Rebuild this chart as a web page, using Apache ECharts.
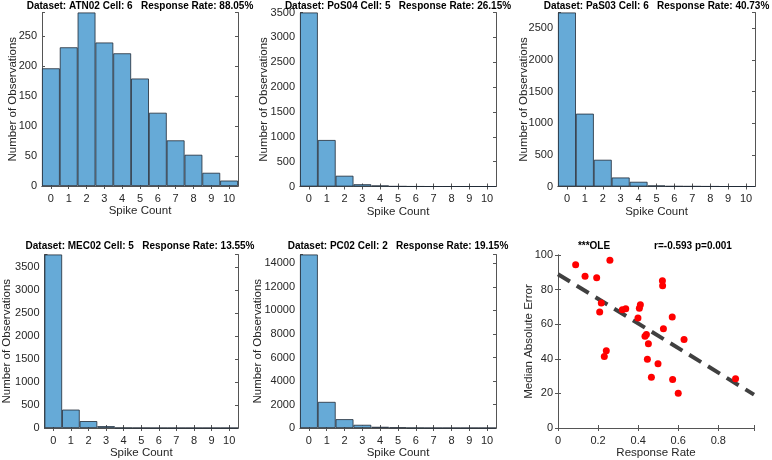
<!DOCTYPE html>
<html><head><meta charset="utf-8">
<script src="https://cdn.jsdelivr.net/npm/echarts@6/dist/echarts.min.js"></script>
<style>html,body{margin:0;padding:0;background:#fff}#c{width:772px;height:460px}</style>
</head><body><div id="c"></div>
<script>
// ---- data ----
const spikeCounts = ['0','1','2','3','4','5','6','7','8','9','10'];
const atn02 = [196, 231, 289, 239, 221, 179, 122, 76, 52, 22, 9];
const pos04 = [3500, 935, 216, 45, 20, 4, 1, 0, 0, 0, 0];
const pas03 = [2748, 1150, 422, 142, 74, 16, 5, 3, 1, 0, 0];
const mec02 = [3780, 400, 150, 40, 3, 1, 0, 0, 0, 0, 0];
const pc02  = [14760, 2220, 750, 270, 100, 45, 6, 0, 0, 0, 0];
const histTitles = [
  'Dataset: ATN02 Cell: 6   Response Rate: 88.05%',
  'Dataset: PoS04 Cell: 5   Response Rate: 26.15%',
  'Dataset: PaS03 Cell: 6   Response Rate: 40.73%',
  'Dataset: MEC02 Cell: 5   Response Rate: 13.55%',
  'Dataset: PC02 Cell: 2   Response Rate: 19.15%'
];
const yIntervals = [50, 500, 500, 500, 2000];
const responseRate = [0.088,0.135,0.193,0.259,0.216,0.208,0.241,0.231,0.321,0.338,0.411,0.406,0.399,0.441,0.434,0.451,0.446,0.466,0.499,0.521,0.522,0.526,0.570,0.572,0.600,0.629,0.886];
const medianError  = [94.4,87.7,86.8,96.9,72.2,67.0,44.6,41.4,68.4,69.0,71.3,69.2,63.6,54.0,53.1,48.7,39.7,29.3,37.2,85.1,82.2,57.3,64.2,28.0,20.1,51.1,28.4];
const fitRate  = [0, 0.978];
const fitError = [88.9, 19.3];
const scatterTitleLeft = '***OLE';
const scatterTitleRight = 'r=-0.593 p=0.001';

// ---- layout ----
const FONT = 'Liberation Sans, Arial, Helvetica, sans-serif';
const TXT = '#262626';
const AX = '#555555';
const grids = [
  {left:42,  top:12.5, width:196, height:173.5},
  {left:300, top:12.5, width:196, height:174},
  {left:558, top:12.5, width:197, height:174},
  {left:42,  top:254.5, width:196, height:174.5},
  {left:300, top:254.5, width:196, height:174},
  {left:558, top:255, width:196, height:174}
];
const yNameGaps = [23.5, 30.5, 28.5, 31.5, 36.5, 23.5];
const hists = [atn02, pos04, pas03, mec02, pc02];

const xAxes = [], yAxes = [], series = [], titles = [];
const lineStyle = {show:true, lineStyle:{color:AX, width:1}};
const tickIn = {show:true, inside:true, length:3, lineStyle:{color:AX, width:1}};
const titleStyle = {fontFamily:FONT, fontSize:10, fontWeight:'bold', color:'#000'};

function multFmt(step){
  return function(v){
    const r = v/step;
    if (Math.abs(r - Math.round(r)) < 1e-6) return String(+(+v).toFixed(3));
    return '';
  };
}

hists.forEach((vals, i) => {
  const g = grids[i];
  const ymax = Math.max(...vals);
  const xi = xAxes.length, yi = yAxes.length;
  xAxes.push({type:'category', gridIndex:i, data:spikeCounts, position:'bottom',
    boundaryGap:true, axisLine:lineStyle, axisTick:Object.assign({alignWithLabel:true}, tickIn),
    axisLabel:{color:TXT, fontFamily:FONT, fontSize:11, margin:7},
    name:'Spike Count', nameLocation:'middle', nameGap:19, nameMoveOverlap:false,
    nameTextStyle:{color:TXT, fontFamily:FONT, fontSize:11.5}});
  xAxes.push({type:'category', gridIndex:i, data:spikeCounts, position:'top',
    boundaryGap:true, axisLine:lineStyle, axisTick:Object.assign({alignWithLabel:true}, tickIn),
    axisLabel:{show:false}});
  yAxes.push({type:'value', gridIndex:i, min:0, max:ymax, interval:yIntervals[i], position:'left',
    splitLine:{show:false}, axisLine:lineStyle, axisTick:tickIn,
    axisLabel:{color:TXT, fontFamily:FONT, fontSize:11, margin:5, formatter:multFmt(yIntervals[i])},
    name:'Number of Observations', nameLocation:'middle', nameGap:yNameGaps[i], nameMoveOverlap:false,
    nameTextStyle:{color:TXT, fontFamily:FONT, fontSize:11.5}});
  yAxes.push({type:'value', gridIndex:i, min:0, max:ymax, interval:yIntervals[i], position:'right',
    splitLine:{show:false}, axisLine:lineStyle, axisTick:tickIn, axisLabel:{show:false}});
  series.push({type:'bar', xAxisIndex:xi, yAxisIndex:yi, data:vals, barCategoryGap:'0%',
    itemStyle:{color:'#66AAD7', borderColor:'#1f2a36', borderWidth:0.8}, silent:true, animation:false});
  titles.push({text:histTitles[i], left:g.left + g.width/2, top: i<3 ? 1.5 : 241.5, textAlign:'center',
    padding:0, textStyle:titleStyle});
});

// scatter panel
{
  const i = 5, g = grids[i];
  const xi = xAxes.length, yi = yAxes.length;
  xAxes.push({type:'value', gridIndex:i, min:0, max:fitRate[1], interval:0.2, position:'bottom',
    splitLine:{show:false}, axisLine:lineStyle, axisTick:tickIn,
    axisLabel:{color:TXT, fontFamily:FONT, fontSize:11, margin:7, formatter:multFmt(0.2)},
    name:'Response Rate', nameLocation:'middle', nameGap:19, nameMoveOverlap:false,
    nameTextStyle:{color:TXT, fontFamily:FONT, fontSize:11.5}});
  xAxes.push({type:'value', gridIndex:i, min:0, max:fitRate[1], interval:0.2, position:'top',
    splitLine:{show:false}, axisLine:lineStyle, axisTick:tickIn, axisLabel:{show:false}});
  yAxes.push({type:'value', gridIndex:i, min:0, max:100, interval:20, position:'left',
    splitLine:{show:false}, axisLine:lineStyle, axisTick:tickIn,
    axisLabel:{color:TXT, fontFamily:FONT, fontSize:11, margin:5},
    name:'Median Absolute Error', nameLocation:'middle', nameGap:yNameGaps[i], nameMoveOverlap:false,
    nameTextStyle:{color:TXT, fontFamily:FONT, fontSize:11.5}});
  yAxes.push({type:'value', gridIndex:i, min:0, max:100, interval:20, position:'right',
    splitLine:{show:false}, axisLine:lineStyle, axisTick:tickIn, axisLabel:{show:false}});
  series.push({type:'line', xAxisIndex:xi, yAxisIndex:yi,
    data: fitRate.map((x,k)=>[x, fitError[k]]), symbol:'none', silent:true, animation:false,
    lineStyle:{color:'#404040', width:4, type:[14,8]}, z:2});
  series.push({type:'scatter', xAxisIndex:xi, yAxisIndex:yi,
    data: responseRate.map((x,k)=>[x, medianError[k]]), symbolSize:7, silent:true, animation:false,
    itemStyle:{color:'#ff0000', opacity:1}, z:3});
  titles.push({text:scatterTitleLeft, left:594, top:241.5, textAlign:'center', padding:0, textStyle:titleStyle});
  titles.push({text:scatterTitleRight, left:693, top:241.5, textAlign:'center', padding:0, textStyle:titleStyle});
}

const chart = echarts.init(document.getElementById('c'), null, {renderer:'canvas'});
chart.setOption({
  animation:false,
  backgroundColor:'#ffffff',
  title:titles,
  grid:grids.map(g=>Object.assign({containLabel:false}, g)),
  xAxis:xAxes, yAxis:yAxes, series:series
});
</script></body></html>
